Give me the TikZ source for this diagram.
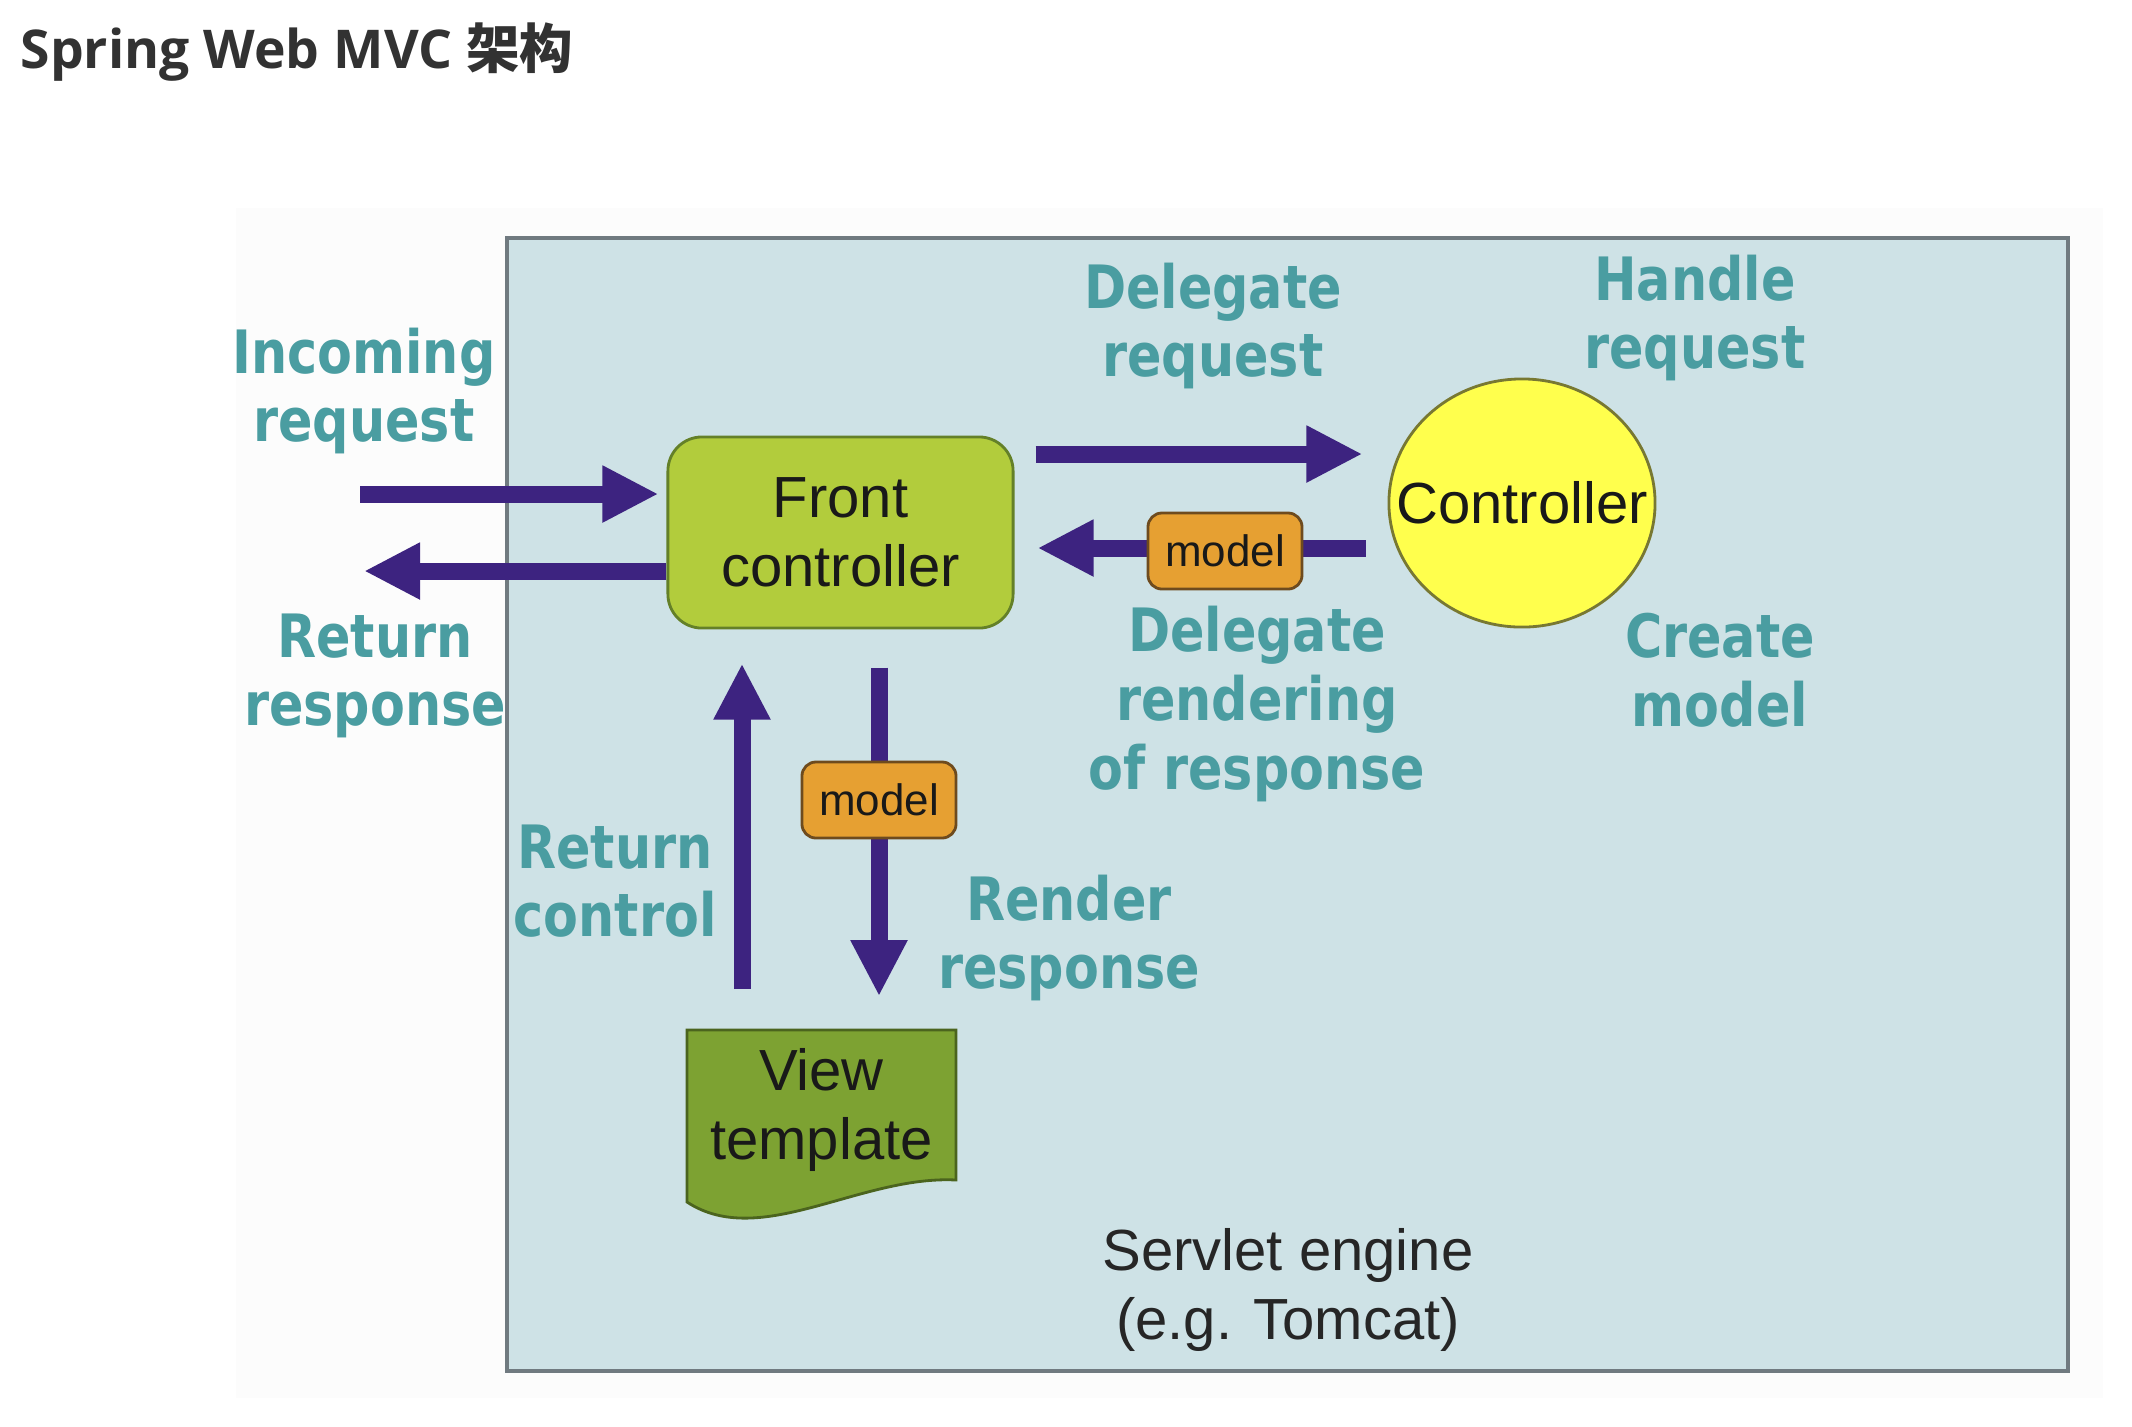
\documentclass[tikz,border=0pt]{standalone}
\usepackage{fontspec}
\setmainfont{Liberation Sans}
\newfontfamily\lblfont[FakeStretch=0.85]{DejaVu Sans}
\newfontfamily\titlefont{Open Sans}
\newfontfamily\cjk{Noto Sans CJK SC}
\usetikzlibrary{arrows.meta,shapes.geometric}
\definecolor{engineblue}{RGB}{206,226,230}
\definecolor{engineline}{RGB}{112,122,128}
\definecolor{flowpurple}{RGB}{61,35,128}
\definecolor{lblteal}{RGB}{74,157,161}
\definecolor{frontgreen}{RGB}{178,204,60}
\definecolor{frontline}{RGB}{100,128,40}
\definecolor{ctrlyellow}{RGB}{255,255,77}
\definecolor{ctrlline}{RGB}{120,120,50}
\definecolor{modelorange}{RGB}{230,160,50}
\definecolor{modelline}{RGB}{110,75,30}
\definecolor{viewgreen}{RGB}{125,162,50}
\definecolor{viewline}{RGB}{75,100,30}
\definecolor{titlegray}{RGB}{50,50,50}
\tikzset{
  flow/.style={draw=flowpurple,line width=0.17cm,
    -{Triangle[length=0.56cm,width=0.53cm]}},
  lbl/.style={text=lblteal,align=center,
    font=\lblfont\bfseries\fontsize{17}{19.5}\selectfont},
  boxtext/.style={text=black!90,align=center,
    font=\fontsize{16.5}{19.5}\selectfont},
  frontbox/.style={boxtext,rectangle,rounded corners=0.34cm,draw=frontline,
    line width=0.8pt,fill=frontgreen,minimum width=3.45cm,minimum height=1.91cm},
  ctrlcircle/.style={boxtext,ellipse,draw=ctrlline,line width=0.8pt,
    fill=ctrlyellow,minimum width=2.66cm,minimum height=2.48cm,inner sep=0pt},
  modelbox/.style={rectangle,rounded corners=0.14cm,draw=modelline,line width=0.8pt,
    fill=modelorange,minimum width=1.54cm,minimum height=0.76cm,
    font=\fontsize{12.5}{14}\selectfont,text=black!90},
}

\begin{document}
\begin{tikzpicture}[x=0.01cm,y=-0.01cm]
\useasboundingbox (0,0) rectangle (2132,1426);
\fill[white] (0,0) rectangle (2132,1426);
\fill[black!1] (236,208) rectangle (2103,1398);

% title
\node[anchor=west,inner sep=0pt,text=titlegray] (title) at (20,52)
  {\fontsize{15.2}{18}\selectfont\titlefont\bfseries Spring Web MVC {\cjk\bfseries 架构}};

% servlet engine
\draw[engineline,line width=1.3pt,fill=engineblue] (507,238) rectangle (2068,1371);
\node[boxtext,text=black!85] (engine) at (1288,1290) {Servlet engine\\(e.g. Tomcat)};

% view template (page with wavy bottom)
\draw[viewline,line width=0.8pt,fill=viewgreen]
  (687,1030) -- (956,1030) -- (956,1180)
  .. controls (860,1175) and (760,1250) .. (687,1202) -- cycle;

% nodes
\node[frontbox] (fc) at (840.5,532.5) {Front\\controller};
\node[ctrlcircle] (ctrl) at (1522,503) {\makebox[0pt]{Controller}};
\node[boxtext,minimum width=2.69cm,minimum height=1.6cm] (vt) at (821.5,1110) {View\\template};

\coordinate (inS) at (360,494);
\coordinate (rrE) at (364,571);
\coordinate (dr) at (1200,454);
\coordinate (rn) at (1200,548);
\coordinate (rc) at (742,800);
\coordinate (rs) at (879,800);

% connectors
\draw[flow,shorten >=0.08cm] (inS) -- (fc.west |- inS);
\draw[flow] (fc.west |- rrE) -- (rrE);
\draw[flow,shorten <=0.21cm,shorten >=0.25cm] (fc.east |- dr) -- (ctrl.west |- dr);
\draw[flow,shorten <=0.22cm,shorten >=0.23cm] (ctrl.west |- rn) -- (fc.east |- rn);
\draw[flow,shorten <=0.40cm,shorten >=0.34cm] (vt.north -| rc) -- (fc.south -| rc);
\draw[flow,shorten <=0.38cm,shorten >=0.33cm] (fc.south -| rs) -- (vt.north -| rs);

\node[modelbox] (m1) at (1225,551) {model};
\node[modelbox] (m2) at (879,800) {model};

% labels
\node[lbl] (inreq) at (364,391) {Incoming\\request};
\node[lbl] (retresp) at (375,676) {Return\\response};
\node[lbl] (delreq) at (1213,326) {Delegate\\request};
\node[lbl] (handreq) at (1695,318) {Handle\\request};
\node[lbl] (delrend) at (1257,704) {Delegate\\rendering\\of response};
\node[lbl] (crmodel) at (1720,670) {Create\\model};
\node[lbl] (retctrl) at (615,881) {Return\\control};
\node[lbl] (rendresp) at (1069,938) {Render\\response};
\end{tikzpicture}
\end{document}
